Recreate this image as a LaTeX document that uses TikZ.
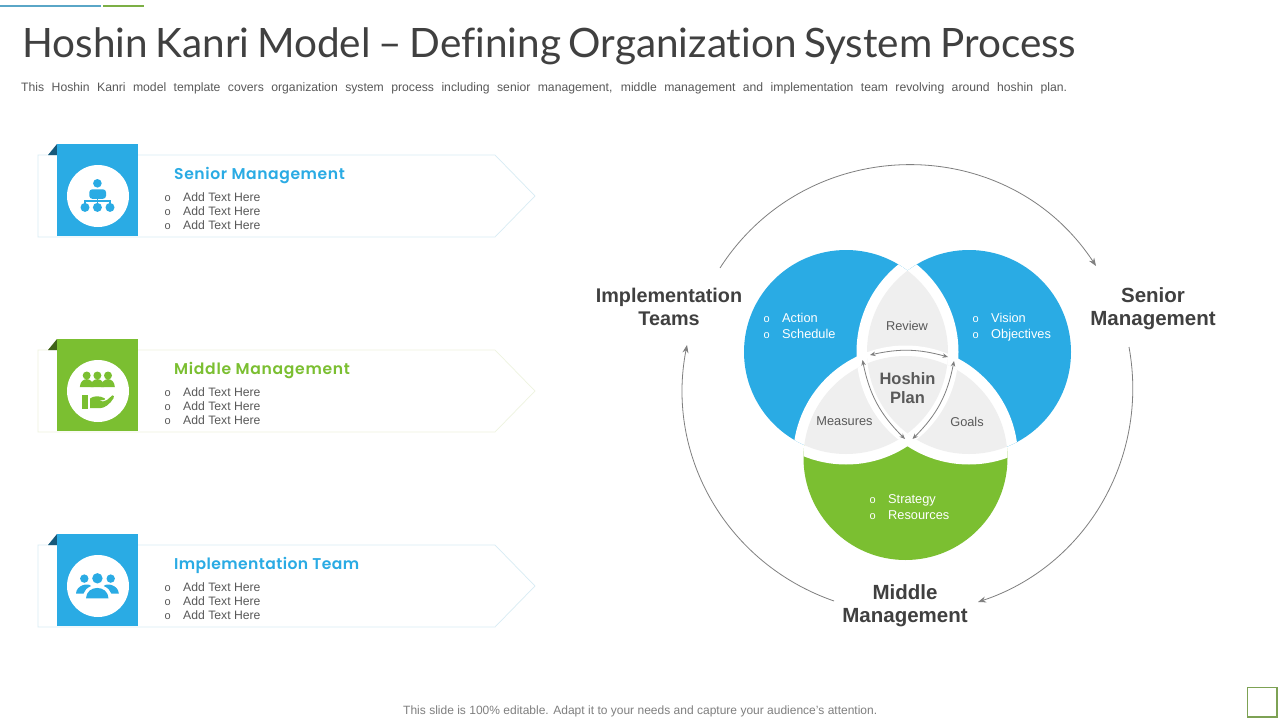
\documentclass[tikz,border=0pt]{standalone}
\usepackage{fontspec}
\setmainfont{Liberation Sans}
\newfontfamily\titlefont[Ligatures=NoCommon]{Lato}
\newfontfamily\headfont{Poppins SemiBold}
\usetikzlibrary{arrows.meta}
\definecolor{cblue}{HTML}{2AABE4}
\definecolor{cgreen}{HTML}{7BBF31}
\definecolor{cgrey}{HTML}{EFEFEF}
\definecolor{cdarkblue}{HTML}{17597A}
\definecolor{cdarkgreen}{HTML}{3F6218}
\definecolor{clineblue}{HTML}{D8ECF4}
\definecolor{clinegreen}{HTML}{EEF3DF}
\definecolor{ctext}{HTML}{595959}
\definecolor{clabel}{HTML}{404040}
\definecolor{carrow}{HTML}{7F7F7F}
\tikzset{
  bodytext/.style={anchor=base west,inner sep=0pt,text=ctext,font=\fontsize{12.2}{12}\selectfont},
  bullet/.style={anchor=base west,inner sep=0pt,font=\fontsize{11}{11}\selectfont},
  listtext/.style={anchor=base west,inner sep=0pt,text=white,font=\fontsize{12.8}{13}\selectfont},
  midtext/.style={inner sep=0pt,text=ctext,font=\fontsize{12.8}{13}\selectfont},
  biglabel/.style={inner sep=0pt,align=center,text=clabel,font=\bfseries\fontsize{20.5}{23}\selectfont},
  hoshin/.style={inner sep=0pt,align=center,text=ctext,font=\bfseries\fontsize{16.5}{19}\selectfont},
  panelhead/.style={anchor=base west,inner sep=0pt,font=\headfont\fontsize{15.6}{16}\selectfont},
  cyclearrow/.style={draw=carrow,line width=0.8pt,-{Stealth[length=8pt,width=6pt]}},
  innerarrow/.style={draw=carrow,line width=0.8pt,{Stealth[length=5.5pt,width=4.5pt]}-{Stealth[length=5.5pt,width=4.5pt]}},
}
\newcommand{\panelbase}[4]{%
  \begin{scope}[yshift=-#1pt]
    \draw[#4,line width=0.7pt] (38,155) -- (495,155) -- (535,196) -- (495,237) -- (38,237) -- cycle;
    \fill[#3] (48,155) -- (57,144) -- (57,155) -- cycle;
    \fill[#2] (57,144) rectangle (138,236);
    \fill[white] (98,196) circle (31);
  \end{scope}}
\newcommand{\paneltext}[5]{%
  % y offset, colour, title, prefix, letter space
  \begin{scope}[yshift=-#1pt]
    \node[panelhead,text=#2] (#4head) at (174,179) {\addfontfeature{LetterSpace=#5}#3};
    \foreach \yy/\nn in {201/a,215/b,229/c}{
      \node[bullet,text=ctext] (#4o\nn) at (164.5,\yy) {o};
      \node[bodytext] (#4t\nn) at (183,\yy) {Add Text Here};
    }
  \end{scope}}
\begin{document}
\begin{tikzpicture}[x=1pt,y=-1pt]
\path[fill=white,use as bounding box] (0,0) rectangle (1280,720);
% top rules, corner box
\fill[cblue!65!gray!90] (0,4.7) rectangle (101,6.5);
\fill[cgreen!75!gray] (103,4.7) rectangle (144,6.5);
\draw[cgreen!55!gray,line width=1.2pt] (1247.5,687.5) rectangle (1277,717);
% title
\node[anchor=base west,inner sep=0pt,text=clabel] (title) at (22,57) {\titlefont\fontsize{40.5}{40}\selectfont\makebox[1054pt][s]{Hoshin Kanri Model – Defining Organization System Process}};
\node[bodytext] (subtitle) at (21,91) {\makebox[1046pt][s]{This Hoshin Kanri model template covers organization system process including senior management, middle management and implementation team revolving around hoshin plan.}};
\node[anchor=base west,inner sep=0pt,text=carrow,font=\fontsize{12}{12}\selectfont] (footer) at (403,714) {\makebox[474pt][s]{This slide is 100\% editable. Adapt it to your needs and capture your audience's attention.}};
% panels
\panelbase{0}{cblue}{cdarkblue}{clineblue}
\panelbase{195}{cgreen}{cdarkgreen}{clinegreen}
\panelbase{390}{cblue}{cdarkblue}{clineblue}
\paneltext{0}{cblue}{Senior Management}{s}{3.8}
\paneltext{195}{cgreen}{Middle Management}{m}{4.5}
\paneltext{390}{cblue}{Implementation Team}{i}{2.6}
% icon senior
\fill[cblue] (97.4,183.3) circle (4.3);
\fill[cblue,rounded corners=3pt] (89.3,189.3) -- (106,189.3) -- (106,198.8) -- (89.3,198.8) -- cycle;
\draw[cblue,line width=1.2pt] (97.4,198) -- (97.4,204) (85,204) -- (85,201) -- (110,201) -- (110,204);
\foreach \xx in {85,97.4,110}{\fill[cblue] (\xx,207.4) circle (4.5);}
% icon middle
\foreach \xx in {86.7,97.4,108}{
  \fill[cgreen] (\xx,375.5) circle (4);
  \fill[cgreen] (\xx-6.8,387) .. controls (\xx-6.5,376.5) and (\xx+6.5,376.5) .. (\xx+6.8,387) -- cycle;
}
\fill[cgreen] (81.7,395) rectangle (87.7,408.5);
\fill[cgreen] (90,398.5) .. controls (94,395.5) and (100,395.5) .. (105,398.5) .. controls (105.5,400.5) and (102,400.5) .. (99,400.3) .. controls (102,402) and (105,401.5) .. (107,400) -- (112.5,395.3) .. controls (114,395) and (114,397) .. (113.7,398) .. controls (110,404) and (105,408) .. (100,408.2) -- (90,408.2) -- cycle;
% icon team
\fill[cblue] (97.4,578.3) circle (5.2);
\fill[cblue] (84.3,578.6) circle (4.2);
\fill[cblue] (110.7,578.6) circle (4.2);
\fill[cblue] (86,598.3) .. controls (86.5,584.5) and (108,584.5) .. (108.5,598.3) -- cycle;
\fill[cblue] (76,593.5) .. controls (76.5,585) and (88,582.5) .. (91,586) .. controls (87,588) and (84.5,590) .. (83.5,593.5) -- cycle;
\fill[cblue] (118.8,593.5) .. controls (118.3,585) and (106.8,582.5) .. (103.8,586) .. controls (107.8,588) and (110.3,590) .. (111.3,593.5) -- cycle;
% Venn
\coordinate (A) at (846,352);
\coordinate (B) at (969,352);
\coordinate (C) at (905.5,458);
\def\RR{102}
\def\RO{112.5}
\fill[cblue] (A) circle (\RR);
\fill[cblue] (B) circle (\RR);
\fill[cgreen] (C) circle (\RR);
\begin{scope}\clip (A) circle (\RR); \fill[white] (B) circle (\RO); \fill[white] (C) circle (\RO);\end{scope}
\begin{scope}\clip (B) circle (\RR); \fill[white] (A) circle (\RO); \fill[white] (C) circle (\RO);\end{scope}
\begin{scope}\clip (C) circle (\RR); \fill[white] (A) circle (\RO); \fill[white] (B) circle (\RO);\end{scope}
\begin{scope}\clip (A) circle (\RR); \fill[cgrey] (B) circle (\RR); \fill[cgrey] (C) circle (\RR);\end{scope}
\begin{scope}\clip (B) circle (\RR); \fill[cgrey] (C) circle (\RR);\end{scope}
\begin{scope}\clip (A) circle (\RR); \clip (B) circle (\RR); \fill[white] (C) circle (\RO);\end{scope}
\begin{scope}\clip (A) circle (\RR); \clip (C) circle (\RR); \fill[white] (B) circle (\RO);\end{scope}
\begin{scope}\clip (B) circle (\RR); \clip (C) circle (\RR); \fill[white] (A) circle (\RO);\end{scope}
\begin{scope}\clip (A) circle (\RR); \clip (B) circle (\RR); \fill[cgrey] (C) circle (\RR);\end{scope}
% inner arrows
\coordinate (ia) at (870,355);
\coordinate (ib) at (948,357);
\coordinate (ic) at (862.5,360);
\coordinate (id) at (905,439);
\coordinate (ie) at (954,361);
\coordinate (if) at (912.5,439);
\draw[innerarrow] (ia) to[bend left=14] (ib);
\draw[innerarrow] (ic) to[bend right=17] (id);
\draw[innerarrow] (ie) to[bend left=17] (if);
% inner text
\node[midtext] (review) at (907,325.5) {Review};
\node[midtext] (measures) at (844.5,421.5) {Measures};
\node[midtext] (goals) at (967,421.5) {Goals};
\node[hoshin] (plan) at (907.5,388.5) {Hoshin\\Plan};
\node[bullet,text=white] (oa1) at (763.5,322) {o};
\node[bullet,text=white] (oa2) at (763.5,338) {o};
\node[listtext] (action) at (782,322) {Action};
\node[listtext] (schedule) at (782,338) {Schedule};
\node[bullet,text=white] (ob1) at (972.5,322) {o};
\node[bullet,text=white] (ob2) at (972.5,338) {o};
\node[listtext] (vision) at (991,322) {Vision};
\node[listtext] (objectives) at (991,338) {Objectives};
\node[bullet,text=white] (oc1) at (869.5,503) {o};
\node[bullet,text=white] (oc2) at (869.5,519) {o};
\node[listtext] (strategy) at (888,503) {Strategy};
\node[listtext] (resources) at (888,519) {Resources};
% outer labels
\node[biglabel,font=\bfseries\fontsize{19.8}{23}\selectfont] (impl) at (669,306.5) {Implementation\\Teams};
\node[biglabel] (senior) at (1153,309) {Senior\\Management};
\node[biglabel] (middle) at (905,606) {Middle\\Management};
% cycle arrows
\coordinate (c1) at (720,268);
\coordinate (c2) at (1096,266);
\coordinate (c3) at (1129,347);
\coordinate (c4) at (978,602);
\coordinate (c5) at (834,601);
\coordinate (c6) at (687,345);
\draw[cyclearrow] (c1) to[bend left=57,looseness=1.1] (c2);
\draw[cyclearrow] (c3) to[bend left=41,looseness=0.98] (c4);
\draw[cyclearrow] (c5) to[bend left=41,looseness=0.98] (c6);
\end{tikzpicture}
\end{document}
